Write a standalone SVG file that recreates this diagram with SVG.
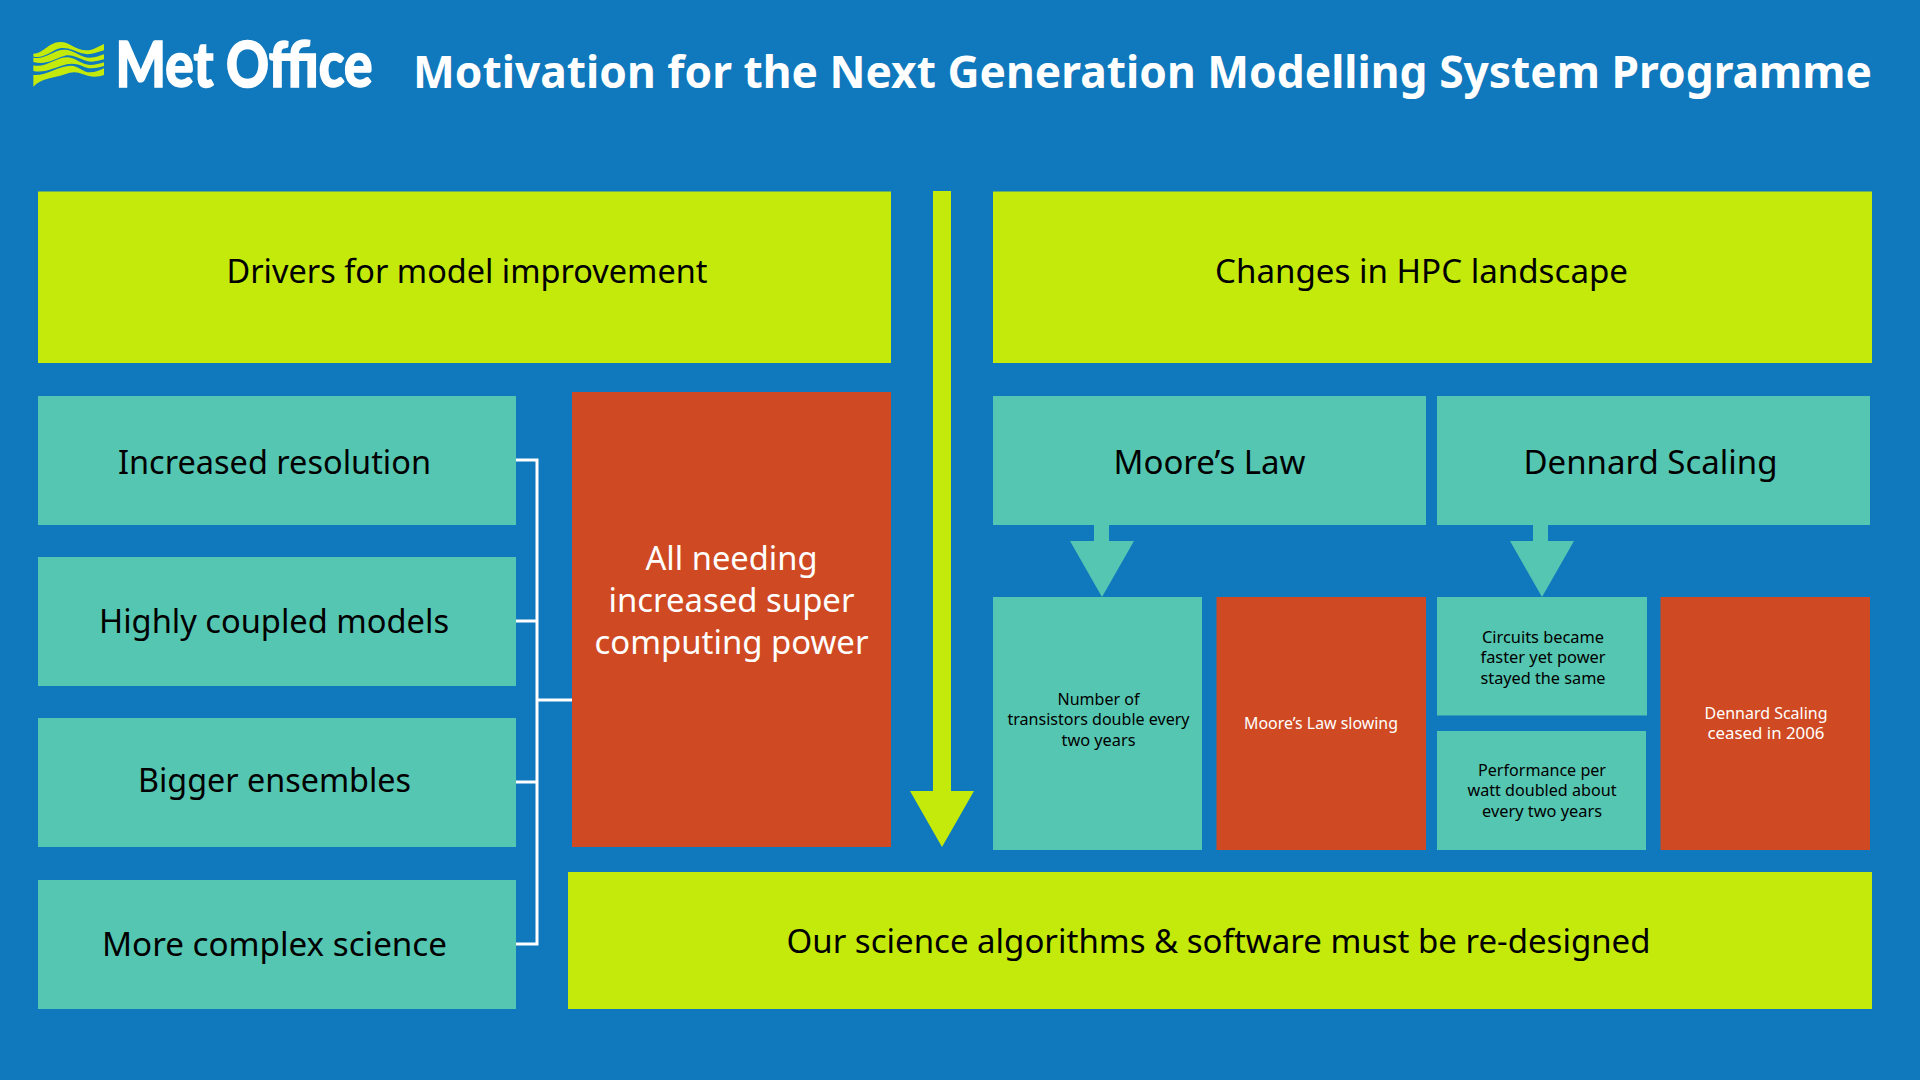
<svg xmlns="http://www.w3.org/2000/svg" width="1920" height="1080" viewBox="0 0 1920 1080">
<style>
.lime{fill:#c4ea0b}.teal{fill:#55c6b1}.red{fill:#cf4a22}
text{font-family:"Noto Sans","Open Sans","Liberation Sans",sans-serif;text-anchor:middle}
.d{fill:#000}.w{fill:#fff}
.l{font-size:33px}.s{font-size:16px}
.conn{stroke:#fff;stroke-width:3;fill:none}
</style>
<rect width="1920" height="1080" fill="#1078bc"/>
<g id="logo">
<g transform="translate(25 35) scale(.3333)">
<path class="lime" d="M25,56 C55,56 70,22 105,21 C135,20 150,46 185,46 C205,46 220,34 237,27 L237,46 C215,52 195,62 170,55 C150,49 130,36 105,40 C80,45 60,72 25,65 Z"/>
<path class="lime" d="M25,68 C58,76 85,44 118,44 C148,44 165,68 195,68 C212,68 225,62 237,58 L237,73 C220,78 198,84 178,76 C158,68 140,58 120,62 C95,68 65,92 25,81 Z"/>
<path class="lime" d="M25,91 C62,100 95,66 128,67 C152,68 170,90 195,90 C210,90 225,86 237,82 L237,93 C220,98 198,104 178,96 C160,88 145,84 125,88 C95,95 60,116 25,108 Z"/>
<path class="lime" d="M25,155 L25,120 C62,124 100,92 138,92 C158,92 175,112 195,112 C210,112 225,106 237,100 L237,120 C215,128 195,126 175,118 C155,110 140,110 120,118 C90,130 50,128 25,155 Z"/>
</g>
<text x="244" y="87" class="w" style="font-family:Lato,sans-serif;font-weight:900;font-size:62px;stroke:#fff;stroke-width:1.500" textLength="257" lengthAdjust="spacingAndGlyphs">Met Office</text>
</g>
<g id="title"><text x="1142.500" y="88" class="w" style="font-size:45px;font-weight:700" textLength="1459" lengthAdjust="spacingAndGlyphs">Motivation for the Next Generation Modelling System Programme</text></g>
<g id="connectors">
<path class="conn" d="M516 460H537V944H516M516 621H537M516 782H537M537 700H573"/>
<path class="lime" d="M933 191H951V791H974L942 847L910 791H933Z"/>
<path class="teal" d="M1094 525H1109V541H1134L1102 597L1070 541H1094Z"/>
<path class="teal" d="M1533 525H1548V541H1574L1542 597L1510 541H1533Z"/>
</g>
<g id="drivers"><rect class="lime" x="38" y="191.500" width="853" height="171.500"/><text x="467" y="283" class="d l" textLength="481" lengthAdjust="spacingAndGlyphs">Drivers for model improvement</text></g>
<g id="hpc"><rect class="lime" x="993" y="191.500" width="879" height="171.500"/><text x="1421.500" y="283" class="d l" textLength="413" lengthAdjust="spacingAndGlyphs">Changes in HPC landscape</text></g>
<g id="resolution"><rect class="teal" x="38" y="396" width="478" height="129"/><text x="274.500" y="474" class="d l" textLength="313" lengthAdjust="spacingAndGlyphs">Increased resolution</text></g>
<g id="coupled"><rect class="teal" x="38" y="557" width="478" height="129"/><text x="274" y="633" class="d l" textLength="350" lengthAdjust="spacingAndGlyphs">Highly coupled models</text></g>
<g id="ensembles"><rect class="teal" x="38" y="718" width="478" height="129"/><text x="274.500" y="792" class="d l" textLength="273" lengthAdjust="spacingAndGlyphs">Bigger ensembles</text></g>
<g id="science"><rect class="teal" x="38" y="880" width="478" height="129"/><text x="274.500" y="956" class="d l" textLength="345" lengthAdjust="spacingAndGlyphs">More complex science</text></g>
<g id="power"><rect class="red" x="572" y="392" width="319" height="455"/><text x="731.500" y="570" class="w l" textLength="172" lengthAdjust="spacingAndGlyphs">All needing</text><text x="731.500" y="612" class="w l" textLength="246" lengthAdjust="spacingAndGlyphs">increased super</text><text x="731.500" y="654" class="w l" textLength="274" lengthAdjust="spacingAndGlyphs">computing power</text></g>
<g id="redesign"><rect class="lime" x="568" y="872" width="1304" height="137"/><text x="1218.500" y="953" class="d l" textLength="864" lengthAdjust="spacingAndGlyphs">Our science algorithms &amp; software must be re-designed</text></g>
<g id="moore"><rect class="teal" x="993" y="396" width="433" height="129"/><text x="1209.500" y="474" class="d l" textLength="192" lengthAdjust="spacingAndGlyphs">Moore’s Law</text></g>
<g id="dennard"><rect class="teal" x="1437" y="396" width="433" height="129"/><text x="1650.500" y="474" class="d l" textLength="254" lengthAdjust="spacingAndGlyphs">Dennard Scaling</text></g>
<g id="transistors"><rect class="teal" x="993" y="597" width="209" height="253"/><text x="1098.500" y="705" class="d s" textLength="82" lengthAdjust="spacingAndGlyphs">Number of</text><text x="1098.500" y="725" class="d s" textLength="182" lengthAdjust="spacingAndGlyphs">transistors double every</text><text x="1098.500" y="746" class="d s" textLength="74" lengthAdjust="spacingAndGlyphs">two years</text></g>
<g id="slowing"><rect class="red" x="1216.500" y="597" width="209.500" height="253"/><text x="1321" y="729" class="w s" textLength="154" lengthAdjust="spacingAndGlyphs">Moore’s Law slowing</text></g>
<g id="circuits"><rect class="teal" x="1437" y="597" width="210" height="118.500"/><text x="1543" y="643" class="d s" textLength="122" lengthAdjust="spacingAndGlyphs">Circuits became</text><text x="1543" y="663" class="d s" textLength="125" lengthAdjust="spacingAndGlyphs">faster yet power</text><text x="1543" y="684" class="d s" textLength="125" lengthAdjust="spacingAndGlyphs">stayed the same</text></g>
<g id="performance"><rect class="teal" x="1437" y="731" width="209" height="119"/><text x="1542" y="776" class="d s" textLength="128" lengthAdjust="spacingAndGlyphs">Performance per</text><text x="1542" y="796" class="d s" textLength="149" lengthAdjust="spacingAndGlyphs">watt doubled about</text><text x="1542" y="817" class="d s" textLength="120" lengthAdjust="spacingAndGlyphs">every two years</text></g>
<g id="ceased"><rect class="red" x="1660.500" y="597" width="209.500" height="253"/><text x="1766" y="719" class="w s" textLength="123" lengthAdjust="spacingAndGlyphs">Dennard Scaling</text><text x="1766" y="739" class="w s" textLength="117" lengthAdjust="spacingAndGlyphs">ceased in 2006</text></g>
</svg>
